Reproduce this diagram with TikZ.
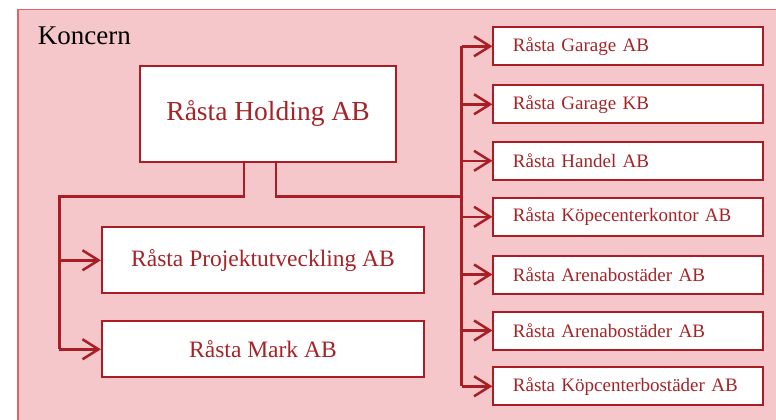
\documentclass[tikz,border=0pt]{standalone}
\usepackage{fontspec}
\setmainfont{Liberation Serif}
\usetikzlibrary{arrows.meta}
\definecolor{bgpink}{RGB}{245,199,202}
\definecolor{bgedge}{RGB}{222,100,105}
\definecolor{darkred}{RGB}{168,30,36}
\definecolor{txtred}{RGB}{166,36,40}
\tikzset{
  box/.style={draw=darkred, line width=2pt, fill=white, text=txtred, inner sep=0pt},
  rbox/.style={box, minimum height=38pt, text width=231pt, inner xsep=19.5pt, align=left,
               font=\fontsize{19}{22}\selectfont},
  lbox/.style={box, minimum width=322.3pt, font=\fontsize{23.5}{26}\selectfont},
  conn/.style={draw=darkred, line width=2.5pt, line join=miter},
  arr/.style={conn, -{Straight Barb[length=16pt,width=20pt,line width=2.5pt]}}
}
\begin{document}
\begin{tikzpicture}[x=1pt,y=-1pt]
\useasboundingbox (0,0) rectangle (776,420);
\fill[bgpink] (18,9.5) rectangle (800,440);
\draw[bgedge, line width=1.5pt] (18,440) -- (18,9.5) -- (800,9.5);
\node[anchor=base west, inner sep=0pt, font=\fontsize{27}{30}\selectfont] (koncern) at (37.7,45) {Koncern};
\node[box, minimum width=256pt, minimum height=96pt, font=\fontsize{27.5}{30}\selectfont] (hold) at (268,113.7) {Råsta Holding AB};
\node[lbox, minimum height=66pt] (proj) at (263,260.3) {Råsta Projektutveckling AB};
\node[lbox, minimum height=56pt] (mark) at (263,349.3) {Råsta Mark AB};
\node[rbox] (r1) at (628.4,46.3) {Råsta Garage AB};
\node[rbox] (r2) at (628.4,104.3) {Råsta Garage KB};
\node[rbox] (r3) at (628.4,160.8) {Råsta Handel AB};
\node[rbox] (r4) at (628.4,216.8) {Råsta Köpecenterkontor AB};
\node[rbox] (r5) at (628.4,274.5) {Råsta Arenabostäder AB};
\node[rbox] (r6) at (628.4,330.5) {Råsta Arenabostäder AB};
\node[rbox] (r7) at (628.4,386.3) {Råsta Köpcenterbostäder AB};
\coordinate (s1) at (244,196.7);
\coordinate (s2) at (276,196.7);
\coordinate (lbus) at (59.3,196.7);
\coordinate (rbus) at (461.7,196.7);
\draw[conn] (hold.south -| s1) -- (s1) -- (lbus) -- (lbus |- mark.west);
\draw[arr] (lbus |- proj.west) -- (proj.west);
\draw[arr] (lbus |- mark.west) -- (mark.west);
\draw[conn] (hold.south -| s2) -- (s2) -- (rbus);
\draw[conn] (rbus |- r1.west) -- (rbus |- r7.west);
\foreach \n in {r1,r2,r3,r4,r5,r6,r7}
  \draw[arr] (rbus |- \n.west) -- (\n.west);
\end{tikzpicture}
\end{document}
